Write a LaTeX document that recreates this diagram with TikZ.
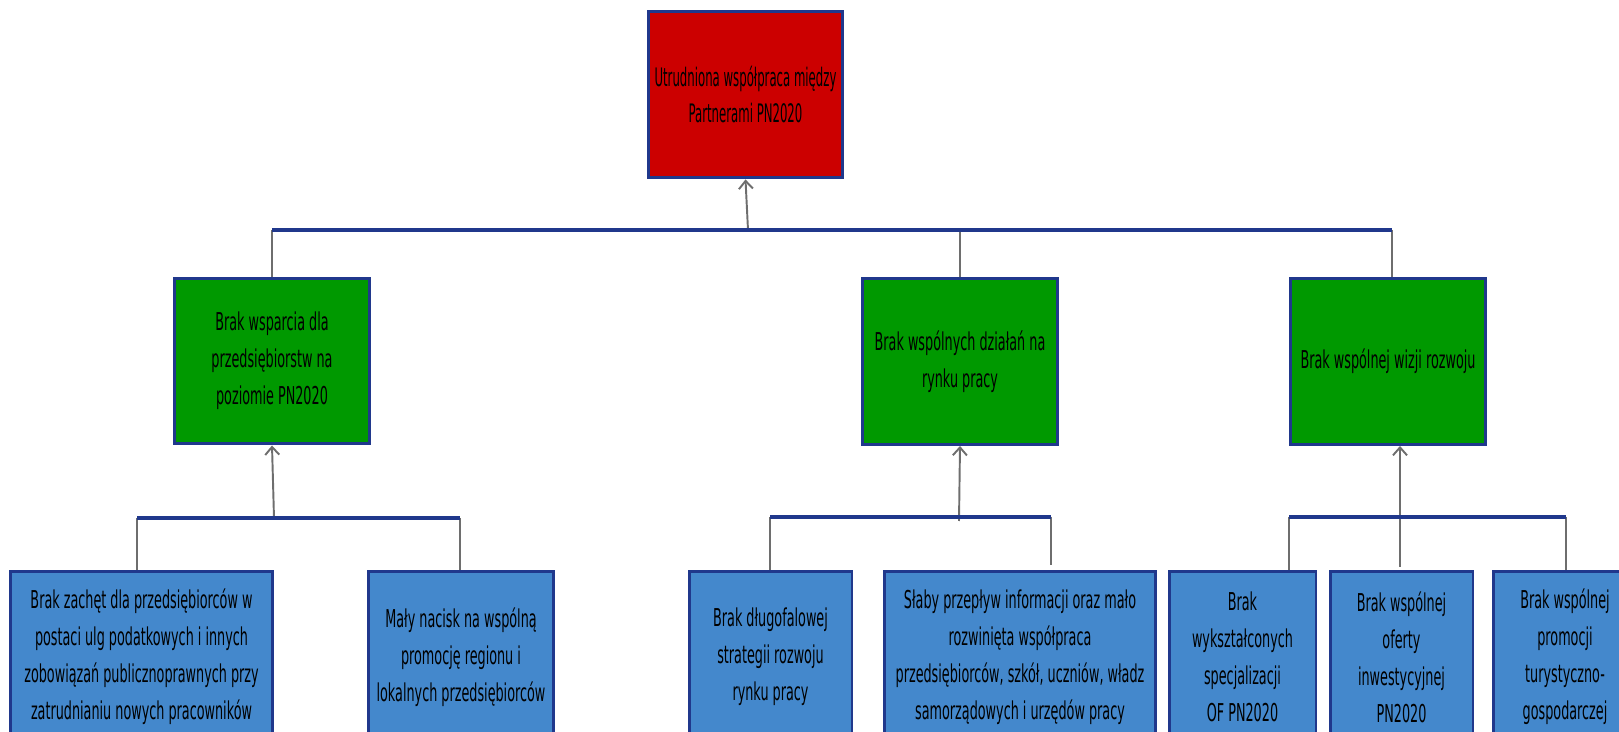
\documentclass[tikz,border=0pt]{standalone}
\usepackage{fontspec}
\newfontfamily\treefont{DejaVu Sans}[FakeStretch=0.52]
\newfontfamily\effectfont{DejaVu Sans}[FakeStretch=0.46]
\usetikzlibrary{arrows.meta,calc}

\definecolor{effectred}{RGB}{204,0,0}
\definecolor{causegreen}{RGB}{0,153,0}
\definecolor{rootblue}{RGB}{68,136,204}
\definecolor{framenavy}{RGB}{32,56,140}
\definecolor{linkgray}{RGB}{110,110,110}

\begin{document}
\begin{tikzpicture}[
  x=0.02cm, y=-0.02cm,
  font=\treefont\fontsize{14}{21}\selectfont,
  >={Straight Barb[length=4.5pt,width=8pt]},
  box/.style={
    rectangle,
    draw=framenavy,
    line width=1.7pt,
    align=center,
    inner sep=2pt,
    text=black
  },
  effect/.style={
    box,
    fill=effectred,
    font=\effectfont\fontsize{14.5}{21}\selectfont,
    minimum width=3.9cm,
    minimum height=3.34cm
  },
  cause/.style={
    box,
    fill=causegreen,
    minimum width=3.9cm,
    minimum height=3.32cm
  },
  root/.style={
    box,
    fill=rootblue,
    minimum height=3.44cm
  },
  bar/.style={draw=framenavy, line width=2.3pt},
  link/.style={draw=linkgray, line width=1.1pt},
  flow/.style={link, ->}
]
\useasboundingbox (0,0) rectangle (1619,732);
\clip (0,0) rectangle (1619,732);

\node[effect] (effect) at (745.5,94.5) {Utrudniona współpraca między\\Partnerami PN2020};

\node[cause] (cause1) at (272,361) {Brak wsparcia dla\\przedsiębiorstw na\\poziomie PN2020};
\node[cause] (cause2) at (960,361.5) {Brak wspólnych działań na\\rynku pracy};
\node[cause] (cause3) at (1388,361.5) {Brak wspólnej wizji rozwoju};

\node[root, minimum width=5.26cm] (root1) at (141.5,657) {Brak zachęt dla przedsiębiorców w\\postaci ulg podatkowych i innych\\zobowiązań publicznoprawnych przy\\zatrudnianiu nowych pracowników};
\node[root, minimum width=3.72cm] (root2) at (461,657) {Mały nacisk na wspólną\\promocję regionu i\\lokalnych przedsiębiorców};
\node[root, minimum width=3.26cm] (root3) at (770.5,657) {Brak długofalowej\\strategii rozwoju\\rynku pracy};
\node[root, minimum width=5.44cm] (root4) at (1020,657) {Słaby przepływ informacji oraz mało\\rozwinięta współpraca\\przedsiębiorców, szkół, uczniów, władz\\samorządowych i urzędów pracy};
\node[root, minimum width=2.94cm] (root5) at (1242.5,657) {Brak\\wykształconych\\specjalizacji\\OF PN2020};
\node[root, minimum width=2.86cm] (root6) at (1401.5,657) {Brak wspólnej\\oferty\\inwestycyjnej\\PN2020};
\node[root, minimum width=2.88cm] (root7) at (1565,657) {Brak wspólnej\\promocji\\turystyczno-\\gospodarczej};

\coordinate (topL) at (272,230);
\coordinate (topM) at (960,230);
\coordinate (topR) at (1392,230);
\coordinate (topA) at (748,230);

\coordinate (g1L) at (137,518);
\coordinate (g1R) at (460,518);
\coordinate (g1A) at (274,518);

\coordinate (g2L) at (770,517);
\coordinate (g2R) at (1051,517);
\coordinate (g2Rend) at (1051,565);
\coordinate (g2A) at (959,521);

\coordinate (g3L) at (1289,517);
\coordinate (g3R) at (1566,517);
\coordinate (g3A) at (1400,567);

\draw[link] (topL) -- (topL |- cause1.north);
\draw[link] (topM) -- (topM |- cause2.north);
\draw[link] (topR) -- (topR |- cause3.north);
\draw[flow] (topA) -- (effect.south);
\draw[bar] (topL) -- (topR);

\draw[link] (g1L) -- (g1L |- root1.north);
\draw[link] (g1R) -- (g1R |- root2.north);
\draw[flow] (g1A) -- (cause1.south);
\draw[bar] (g1L) -- (g1R);

\draw[link] (g2L) -- (g2L |- root3.north);
\draw[link] (g2R) -- (g2Rend);
\draw[flow] (g2A) -- (cause2.south);
\draw[bar] (g2L) -- (g2R);

\draw[link] (g3L) -- (g3L |- root5.north);
\draw[link] (g3R) -- (g3R |- root7.north);
\draw[flow] (g3A) -- (g3A |- cause3.south);
\draw[bar] (g3L) -- (g3R);

\end{tikzpicture}
\end{document}
